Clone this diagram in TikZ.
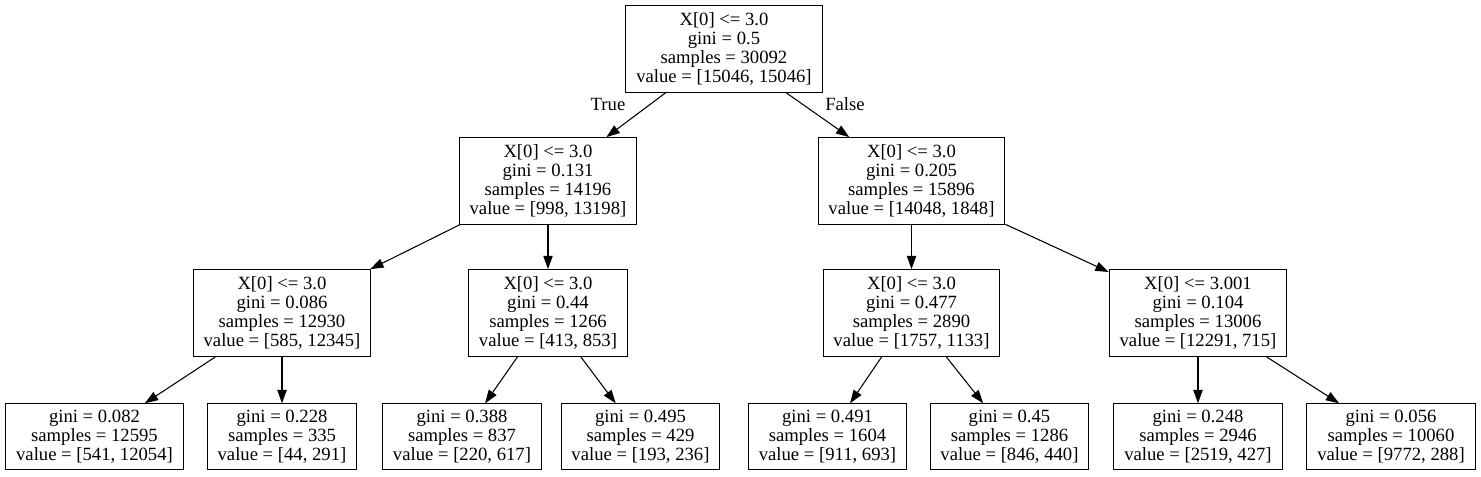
\documentclass[tikz,border=0pt]{standalone}
\usepackage{fontspec}
\setmainfont{Liberation Serif}
\usetikzlibrary{arrows.meta,positioning}

\begin{document}
\begin{tikzpicture}[x=0.75pt,y=-0.75pt]
  \tikzset{
    split/.style={draw, line width=0.8pt, align=center, inner xsep=7.8pt, inner ysep=2pt, minimum height=65pt, font=\fontsize{14}{14.25}\selectfont},
    leaf/.style={split, minimum height=49pt},
    edge/.style={line width=0.8pt, -{Triangle[length=10pt,width=7pt]}},
    branch/.style={font=\fontsize{14}{14.25}\selectfont},
  }
  \useasboundingbox (0,0) rectangle (1481,477);

  % Root and the two first splits
  \node[split] (root) at (724,49) {X[0] <= 3.0\\gini = 0.5\\samples = 30092\\value = [15046, 15046]};
  \node[split] (l)  at (548,181) {X[0] <= 3.0\\gini = 0.131\\samples = 14196\\value = [998, 13198]};
  \node[split] (r)  at (911.5,181) {X[0] <= 3.0\\gini = 0.205\\samples = 15896\\value = [14048, 1848]};

  % Second level
  \node[split] (ll) at (282,313) {X[0] <= 3.0\\gini = 0.086\\samples = 12930\\value = [585, 12345]};
  \node[split] (lr) at (548,313) {X[0] <= 3.0\\gini = 0.44\\samples = 1266\\value = [413, 853]};
  \node[split] (rl) at (911.5,313) {X[0] <= 3.0\\gini = 0.477\\samples = 2890\\value = [1757, 1133]};
  \node[split] (rr) at (1198,313) {X[0] <= 3.001\\gini = 0.104\\samples = 13006\\value = [12291, 715]};

  % Leaves
  \node[leaf] (lll) at (94.5,436.5) {gini = 0.082\\samples = 12595\\value = [541, 12054]};
  \node[leaf] (llr) at (282,436.5) {gini = 0.228\\samples = 335\\value = [44, 291]};
  \node[leaf] (lrl) at (462,436.5) {gini = 0.388\\samples = 837\\value = [220, 617]};
  \node[leaf] (lrr) at (640.5,436.5) {gini = 0.495\\samples = 429\\value = [193, 236]};
  \node[leaf] (rll) at (827.5,436.5) {gini = 0.491\\samples = 1604\\value = [911, 693]};
  \node[leaf] (rlr) at (1009.5,436.5) {gini = 0.45\\samples = 1286\\value = [846, 440]};
  \node[leaf] (rrl) at (1198,436.5) {gini = 0.248\\samples = 2946\\value = [2519, 427]};
  \node[leaf] (rrr) at (1391,436.5) {gini = 0.056\\samples = 10060\\value = [9772, 288]};

  % Edges
  \draw[edge] (root) -- (l);
  \draw[edge] (root) -- (r);
  \node[branch] (true) at (608,104) {True};
  \node[branch] (false) at (845,104) {False};
  \draw[edge] (l) -- (ll);
  \draw[edge] (l) -- (lr);
  \draw[edge] (r) -- (rl);
  \draw[edge] (r) -- (rr);
  \draw[edge] (ll) -- (lll);
  \draw[edge] (ll) -- (llr);
  \draw[edge] (lr) -- (lrl);
  \draw[edge] (lr) -- (lrr);
  \draw[edge] (rl) -- (rll);
  \draw[edge] (rl) -- (rlr);
  \draw[edge] (rr) -- (rrl);
  \draw[edge] (rr) -- (rrr);
\end{tikzpicture}
\end{document}
